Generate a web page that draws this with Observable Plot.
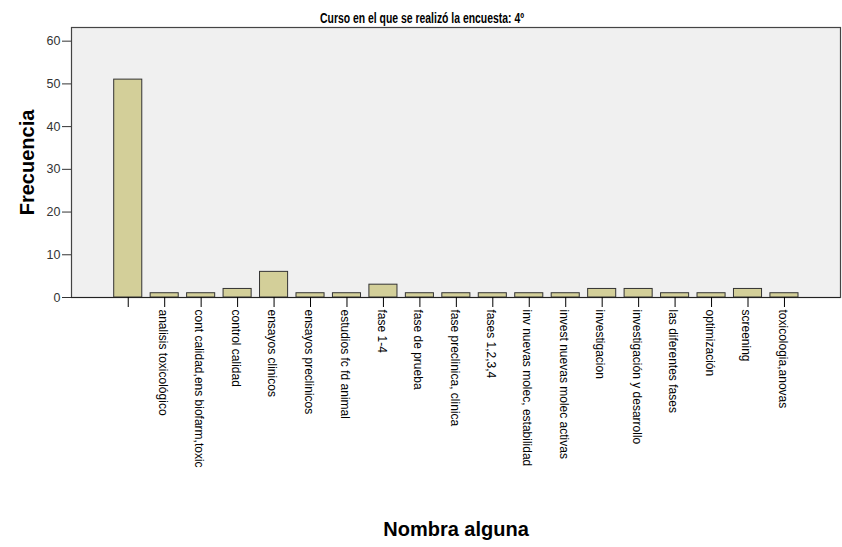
<!DOCTYPE html>
<html><head><meta charset="utf-8">
<script src="https://cdn.jsdelivr.net/npm/d3@7"></script>
<script src="https://cdn.jsdelivr.net/npm/@observablehq/plot@0.6"></script>
<style>body{margin:0;background:#fff;}</style>
</head><body><div id="chart"></div>
<script>
const categories = ["", "analisis toxicológico", "cont calidad,ens biofarm,toxic", "control calidad", "ensayos clinicos", "ensayos preclinicos", "estudios fc fd animal", "fase 1-4", "fase de prueba", "fase preclinica, clinica", "fases 1,2,3,4", "inv nuevas molec, estabilidad", "invest nuevas molec activas", "investigacion", "investigación y desarrollo", "las diferentes fases", "optimización", "screening", "toxicologia,anovas"];
const values = [51, 1, 1, 2, 6, 1, 1, 3, 1, 1, 1, 1, 1, 2, 2, 1, 1, 2, 1];
const yTicks = [0, 10, 20, 30, 40, 50, 60];
const title = "Curso en el que se realizó la encuesta: 4º";
const xLabel = "Nombra alguna";
const yLabel = "Frecuencia";

const data = categories.map((c, i) => ({category: c, value: values[i]}));

const chart = Plot.plot({
  width: 842, height: 547,
  marginTop: 27, marginBottom: 250, marginLeft: 71, marginRight: 2,
  style: {fontFamily: "'Liberation Sans', Arial, sans-serif", background: "#fff", color: "#000"},
  x: {domain: categories, range: [113.7, 798], paddingInner: 0.23, paddingOuter: 0, round: false},
  y: {domain: [0, 63.2]},
  marks: [
    Plot.frame({fill: "#f0f0f0", stroke: "#444", strokeWidth: 1.2}),
    Plot.barY(data, {x: "category", y: "value", fill: "#d3cf99", stroke: "#333", strokeWidth: 1}),
    Plot.ruleY([0], {stroke: "#222", strokeWidth: 1.2}),
    Plot.axisY({ticks: yTicks, tickSize: 9, tickPadding: 2, fontSize: 12.5, label: null, color: "#333"}),
    Plot.axisX({tickSize: 10, tickFormat: () => "", label: null, color: "#000"}),
    Plot.text(categories, {x: d => d, frameAnchor: "bottom", dy: 12, dx: -2, rotate: 90, textAnchor: "start", lineAnchor: "middle", fontSize: 12, fill: "#000"}),
    Plot.text([title], {className: "chart-title", frameAnchor: "top", dx: -34, dy: -14, textAnchor: "middle", fontSize: 14, fontWeight: "bold", fill: "#000"}),
    Plot.text([yLabel], {frameAnchor: "left", dx: -44, rotate: -90, textAnchor: "middle", fontSize: 20, fontWeight: "bold", fill: "#000"}),
    Plot.text([xLabel], {frameAnchor: "bottom", dy: 238, textAnchor: "middle", fontSize: 20, fontWeight: "bold", fill: "#000"})
  ]
});
d3.select(chart).selectAll(".chart-title text").attr("textLength", 204).attr("lengthAdjust", "spacingAndGlyphs");
document.getElementById("chart").appendChild(chart);
</script>
</body></html>
